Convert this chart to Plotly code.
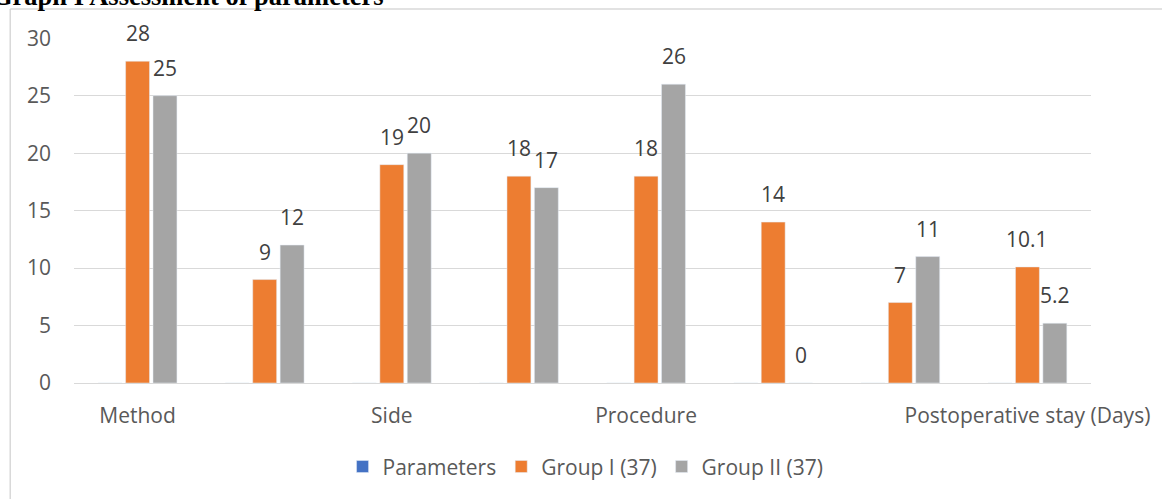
import plotly.graph_objects as go

categories = ["Method", "", "Side", "", "Procedure", "", "", "Postoperative stay (Days)"]
positions = [0, 1, 2, 3, 4, 5, 6, 7]
parameters = [0, 0, 0, 0, 0, 0, 0, 0]
group1 = [28, 9, 19, 18, 18, 14, 7, 10.1]
group2 = [25, 12, 20, 17, 26, 0, 11, 5.2]
yticks = [0, 5, 10, 15, 20, 25, 30]

FONT = "Open Sans"
FS = 21
fig = go.Figure()
fig.add_trace(go.Bar(x=positions, y=parameters, name="Parameters", marker_color="#4472C4"))
fig.add_trace(go.Bar(x=positions, y=group1, name="Group I (37)", marker_color="#ED7D31"))
fig.add_trace(go.Bar(x=positions, y=group2, name="Group II (37)", marker_color="#A5A5A5"))

annotations = []
for xs, ys, dx in ((positions, group1, 0), (positions, group2, 27.5)):
    for xv, yv in zip(xs, ys):
        annotations.append(dict(x=xv, y=yv, xref="x", yref="y", text=str(yv), showarrow=False,
                                xshift=dx, yshift=28, yanchor="middle",
                                font=dict(family=FONT, size=FS, color="#404040")))

annotations.append(dict(x=-0.0829, y=1.0725, xref="paper", yref="paper", xanchor="left", yanchor="bottom",
                        text="<b>Graph I Assessment of parameters</b>", showarrow=False,
                        font=dict(family="Liberation Serif", size=26.5, color="#000000")))

fig.update_layout(
    width=1162, height=499,
    margin=dict(l=74, r=68, t=38, b=116),
    paper_bgcolor="white", plot_bgcolor="white",
    barmode="group", bargap=0.353, bargroupgap=0.127,
    font=dict(family=FONT, size=FS, color="#595959"),
    showlegend=True,
    legend=dict(orientation="h", x=0.503, xanchor="center", y=-0.243, yanchor="middle",
                font=dict(family=FONT, size=FS, color="#595959"), itemclick=False),
    annotations=annotations,
    shapes=[
        dict(type="line", xref="paper", yref="paper", x0=-0.0627, x1=-0.0627, y0=1.0841, y1=-0.34,
             line=dict(color="#d9d9d9", width=1.5)),
        dict(type="line", xref="paper", yref="paper", x0=-0.0627, x1=1.07, y0=1.0841, y1=1.0841,
             line=dict(color="#d9d9d9", width=1.5)),
    ],
)
fig.update_xaxes(range=[-0.5, 7.5], tickvals=positions, ticktext=categories, showgrid=False,
                 showline=False, zeroline=False, ticks="", ticklabelstandoff=18,
                 tickfont=dict(family=FONT, size=FS, color="#595959"))
fig.update_yaxes(range=[0, 30.02], tickvals=yticks, showgrid=True, gridcolor="#d9d9d9", gridwidth=1.3,
                 zeroline=True, zerolinecolor="#d9d9d9", zerolinewidth=1.3, showline=False,
                 ticks="", ticklabelstandoff=22,
                 tickfont=dict(family=FONT, size=FS, color="#595959"))

fig.write_html("out.html", config={"displayModeBar": False},
               post_script="document.body.style.margin='0';document.body.style.overflow='hidden';")
